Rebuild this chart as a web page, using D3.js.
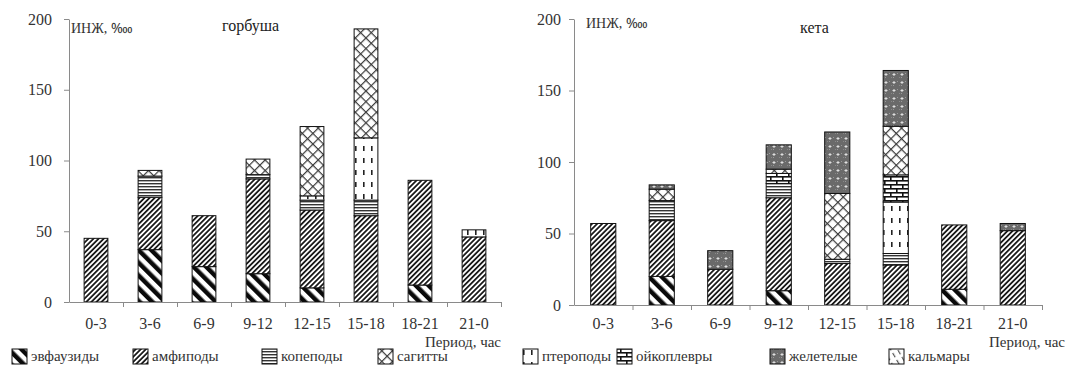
<!DOCTYPE html>
<html>
<head>
<meta charset="utf-8">
<script src="https://cdn.jsdelivr.net/npm/d3@7"></script>
<style>
  body { margin: 0; background: #fff; }
  .axis path, .axis line { stroke: #8a8a8a; }
</style>
</head>
<body>
<script>
var serif = "'Liberation Serif'";

// periods (x axis)
var periods = ["0-3", "3-6", "6-9", "9-12", "12-15", "15-18", "18-21", "21-0"];
var yTicks = [0, 50, 100, 150, 200];

// prey groups in stacking order (bottom -> top)
var stackKeys = ["euph", "amph", "copep", "pterop", "oikopl", "sagitt", "zhelet", "kalm"];
// legend order and names
var legendKeys = ["euph", "amph", "copep", "sagitt", "pterop", "oikopl", "zhelet", "kalm"];
var legendNames = ["эвфаузиды", "амфиподы", "копеподы", "сагитты", "птероподы", "ойкоплевры", "желетелые", "кальмары"];

// горбуша, ИНЖ by period
var gorbEuph   = [0, 37, 25, 20, 10, 0, 12, 0];
var gorbAmph   = [45, 37, 36, 67, 55, 61, 74, 46];
var gorbCopep  = [0, 15, 0, 3, 7, 11, 0, 0];
var gorbPterop = [0, 0, 0, 0, 3, 44, 0, 5];
var gorbOikopl = [0, 0, 0, 0, 0, 0, 0, 0];
var gorbSagitt = [0, 4, 0, 11, 49, 77, 0, 0];
var gorbZhelet = [0, 0, 0, 0, 0, 0, 0, 0];
var gorbKalm   = [0, 0, 0, 0, 0, 0, 0, 0];

// кета, ИНЖ by period
var ketaEuph   = [0, 20, 0, 10, 0, 0, 11, 0];
var ketaAmph   = [57, 39, 25, 65, 29, 28, 45, 52];
var ketaCopep  = [0, 14, 0, 10, 3, 8, 0, 0];
var ketaPterop = [0, 0, 0, 0, 0, 36, 0, 0];
var ketaOikopl = [0, 0, 0, 7, 0, 19, 0, 0];
var ketaSagitt = [0, 8, 0, 3, 46, 34, 0, 0];
var ketaZhelet = [0, 3, 13, 17, 43, 39, 0, 5];
var ketaKalm   = [0, 0, 0, 0, 0, 0, 0, 0];

function buildRows(arrs) {
  return periods.map(function(p, i) {
    var row = {period: p};
    stackKeys.forEach(function(k, j) { row[k] = arrs[j][i]; });
    return row;
  });
}

var gorbRows = buildRows([gorbEuph, gorbAmph, gorbCopep, gorbPterop, gorbOikopl, gorbSagitt, gorbZhelet, gorbKalm]);
var ketaRows = buildRows([ketaEuph, ketaAmph, ketaCopep, ketaPterop, ketaOikopl, ketaSagitt, ketaZhelet, ketaKalm]);

var svg = d3.select("body").append("svg")
    .attr("width", 1068)
    .attr("height", 385);

// ---- fill patterns ----
var defs = svg.append("defs");

function pat(id, w, h, tr) {
  var p = defs.append("pattern")
      .attr("id", id)
      .attr("patternUnits", "userSpaceOnUse")
      .attr("width", w)
      .attr("height", h);
  if (tr) p.attr("patternTransform", tr);
  p.append("rect").attr("width", w).attr("height", h).attr("fill", "#fff");
  return p;
}

// эвфаузиды: wide dark stripes "\"
pat("p-euph", 9, 9, "rotate(-45)")
  .append("rect").attr("x", 0).attr("y", 0).attr("width", 4.5).attr("height", 9).attr("fill", "#0a0a0a");

// амфиподы: narrow dense stripes "/"
pat("p-amph", 3.6, 3.6, "rotate(45)")
  .append("rect").attr("x", 0).attr("y", 0).attr("width", 1.8).attr("height", 3.6).attr("fill", "#1a1a1a");

// копеподы: horizontal lines
pat("p-copep", 4, 3)
  .append("rect").attr("x", 0).attr("y", 0).attr("width", 4).attr("height", 1.4).attr("fill", "#333");

// сагитты: diagonal lattice
var sg = pat("p-sagitt", 7.5, 7.5, "rotate(45)");
sg.append("rect").attr("x", 0).attr("y", 0).attr("width", 7.5).attr("height", 1.2).attr("fill", "#3a3a3a");
sg.append("rect").attr("x", 0).attr("y", 0).attr("width", 1.2).attr("height", 7.5).attr("fill", "#3a3a3a");

// птероподы: vertical dashes
var pt = pat("p-pterop", 8, 12);
pt.append("rect").attr("x", 3).attr("y", 2).attr("width", 1.6).attr("height", 5).attr("fill", "#222");

// ойкоплевры: bricks
var oi = pat("p-oikopl", 12, 8);
oi.append("rect").attr("x", 0).attr("y", 0).attr("width", 12).attr("height", 1.6).attr("fill", "#111");
oi.append("rect").attr("x", 0).attr("y", 4).attr("width", 12).attr("height", 1.6).attr("fill", "#111");
oi.append("rect").attr("x", 2).attr("y", 0).attr("width", 1.6).attr("height", 4).attr("fill", "#111");
oi.append("rect").attr("x", 8).attr("y", 4).attr("width", 1.6).attr("height", 4).attr("fill", "#111");

// желетелые: dark stipple with light crosses
var zh = pat("p-zhelet", 8, 8);
zh.select("rect").attr("fill", "#6a6a6a");
zh.append("rect").attr("x", 1).attr("y", 1).attr("width", 1).attr("height", 1).attr("fill", "#9a9a9a");
zh.append("rect").attr("x", 5).attr("y", 5).attr("width", 1).attr("height", 1).attr("fill", "#9a9a9a");
zh.append("rect").attr("x", 3).attr("y", 5).attr("width", 1).attr("height", 1).attr("fill", "#888");
zh.append("rect").attr("x", 5.5).attr("y", 1).attr("width", 1).attr("height", 3).attr("fill", "#e0e0e0");
zh.append("rect").attr("x", 4.5).attr("y", 2).attr("width", 3).attr("height", 1).attr("fill", "#e0e0e0");

// кальмары: light dashed diagonal "\"
var ka = pat("p-kalm", 6, 8, "rotate(-30)");
ka.append("rect").attr("x", 2).attr("y", 0).attr("width", 1.2).attr("height", 5).attr("fill", "#555");

function label(sel, size) {
  return sel.style("font-family", serif).style("font-size", size + "px").attr("fill", "#333");
}

// ---- one panel ----
function drawPanel(cfg) {
  var x = d3.scaleBand()
      .domain(periods)
      .range([cfg.x0, cfg.x1])
      .paddingInner(cfg.pad)
      .paddingOuter(cfg.pad / 2);

  var y = d3.scaleLinear()
      .domain([0, 200])
      .range([cfg.yb, cfg.yt]);

  var series = d3.stack().keys(stackKeys)(cfg.rows);

  var g = svg.append("g");

  g.selectAll("g.layer")
    .data(series)
    .enter().append("g")
      .attr("class", "layer")
      .attr("fill", function(d) { return "url(#p-" + d.key + ")"; })
    .selectAll("rect")
    .data(function(d) { return d.filter(function(v) { return v[1] - v[0] > 0; }); })
    .enter().append("rect")
      .attr("x", function(d) { return x(d.data.period); })
      .attr("y", function(d) { return y(d[1]); })
      .attr("width", x.bandwidth())
      .attr("height", function(d) { return y(d[0]) - y(d[1]); })
      .attr("stroke", "#111")
      .attr("stroke-width", 1);

  // y axis
  var ya = g.append("g")
      .attr("class", "axis")
      .attr("transform", "translate(" + cfg.x0 + ",0)")
      .call(d3.axisLeft(y).tickValues(yTicks).tickSize(5).tickPadding(cfg.ypad).tickSizeOuter(0));
  label(ya.selectAll("text"), 16);

  // x axis line + boundary ticks
  var xb = d3.scaleLinear().domain([0, periods.length]).range([cfg.x0, cfg.x1]);
  g.append("g")
      .attr("class", "axis")
      .attr("transform", "translate(0," + cfg.yb + ")")
      .call(d3.axisBottom(xb).tickValues(d3.range(1, periods.length + 1)).tickFormat("").tickSize(5).tickSizeOuter(0));

  // x labels
  var xa = g.append("g")
      .attr("transform", "translate(0," + cfg.yb + ")")
      .call(d3.axisBottom(x).tickSize(0).tickPadding(cfg.xpad));
  xa.select(".domain").remove();
  label(xa.selectAll("text"), 16);

  label(g.append("text"), 14)
      .attr("x", cfg.x0 + cfg.unitDx)
      .attr("y", cfg.unitY)
      .text("ИНЖ, ‱");

  label(g.append("text"), 16)
      .attr("x", cfg.titleX)
      .attr("y", cfg.titleY)
      .attr("fill", "#222")
      .text(cfg.title);

  label(g.append("text"), 15)
      .attr("x", cfg.x1 + cfg.perDx)
      .attr("y", 347)
      .attr("text-anchor", "end")
      .text("Период, час");
}

drawPanel({rows: gorbRows, x0: 69, x1: 501, yb: 302, yt: 19, pad: 0.56, ypad: 12, xpad: 16,
           title: "горбуша", titleX: 222, titleY: 31, unitY: 33, unitDx: 2, perDx: 0});
drawPanel({rows: ketaRows, x0: 574, x1: 1042, yb: 305, yt: 19, pad: 0.57, ypad: 8, xpad: 13,
           title: "кета", titleX: 800, titleY: 33, unitY: 28, unitDx: 12, perDx: 23});

// ---- legend ----
var legendX = [12, 133, 262, 378, 523, 617, 770, 889];
var leg = svg.append("g");
legendKeys.forEach(function(k, i) {
  leg.append("rect")
      .attr("x", legendX[i])
      .attr("y", 349)
      .attr("width", 15)
      .attr("height", 15)
      .attr("fill", "url(#p-" + k + ")")
      .attr("stroke", "#111");
  label(leg.append("text"), 15)
      .attr("x", legendX[i] + 19)
      .attr("y", 361)
      .text(legendNames[i]);
});
</script>
</body>
</html>
